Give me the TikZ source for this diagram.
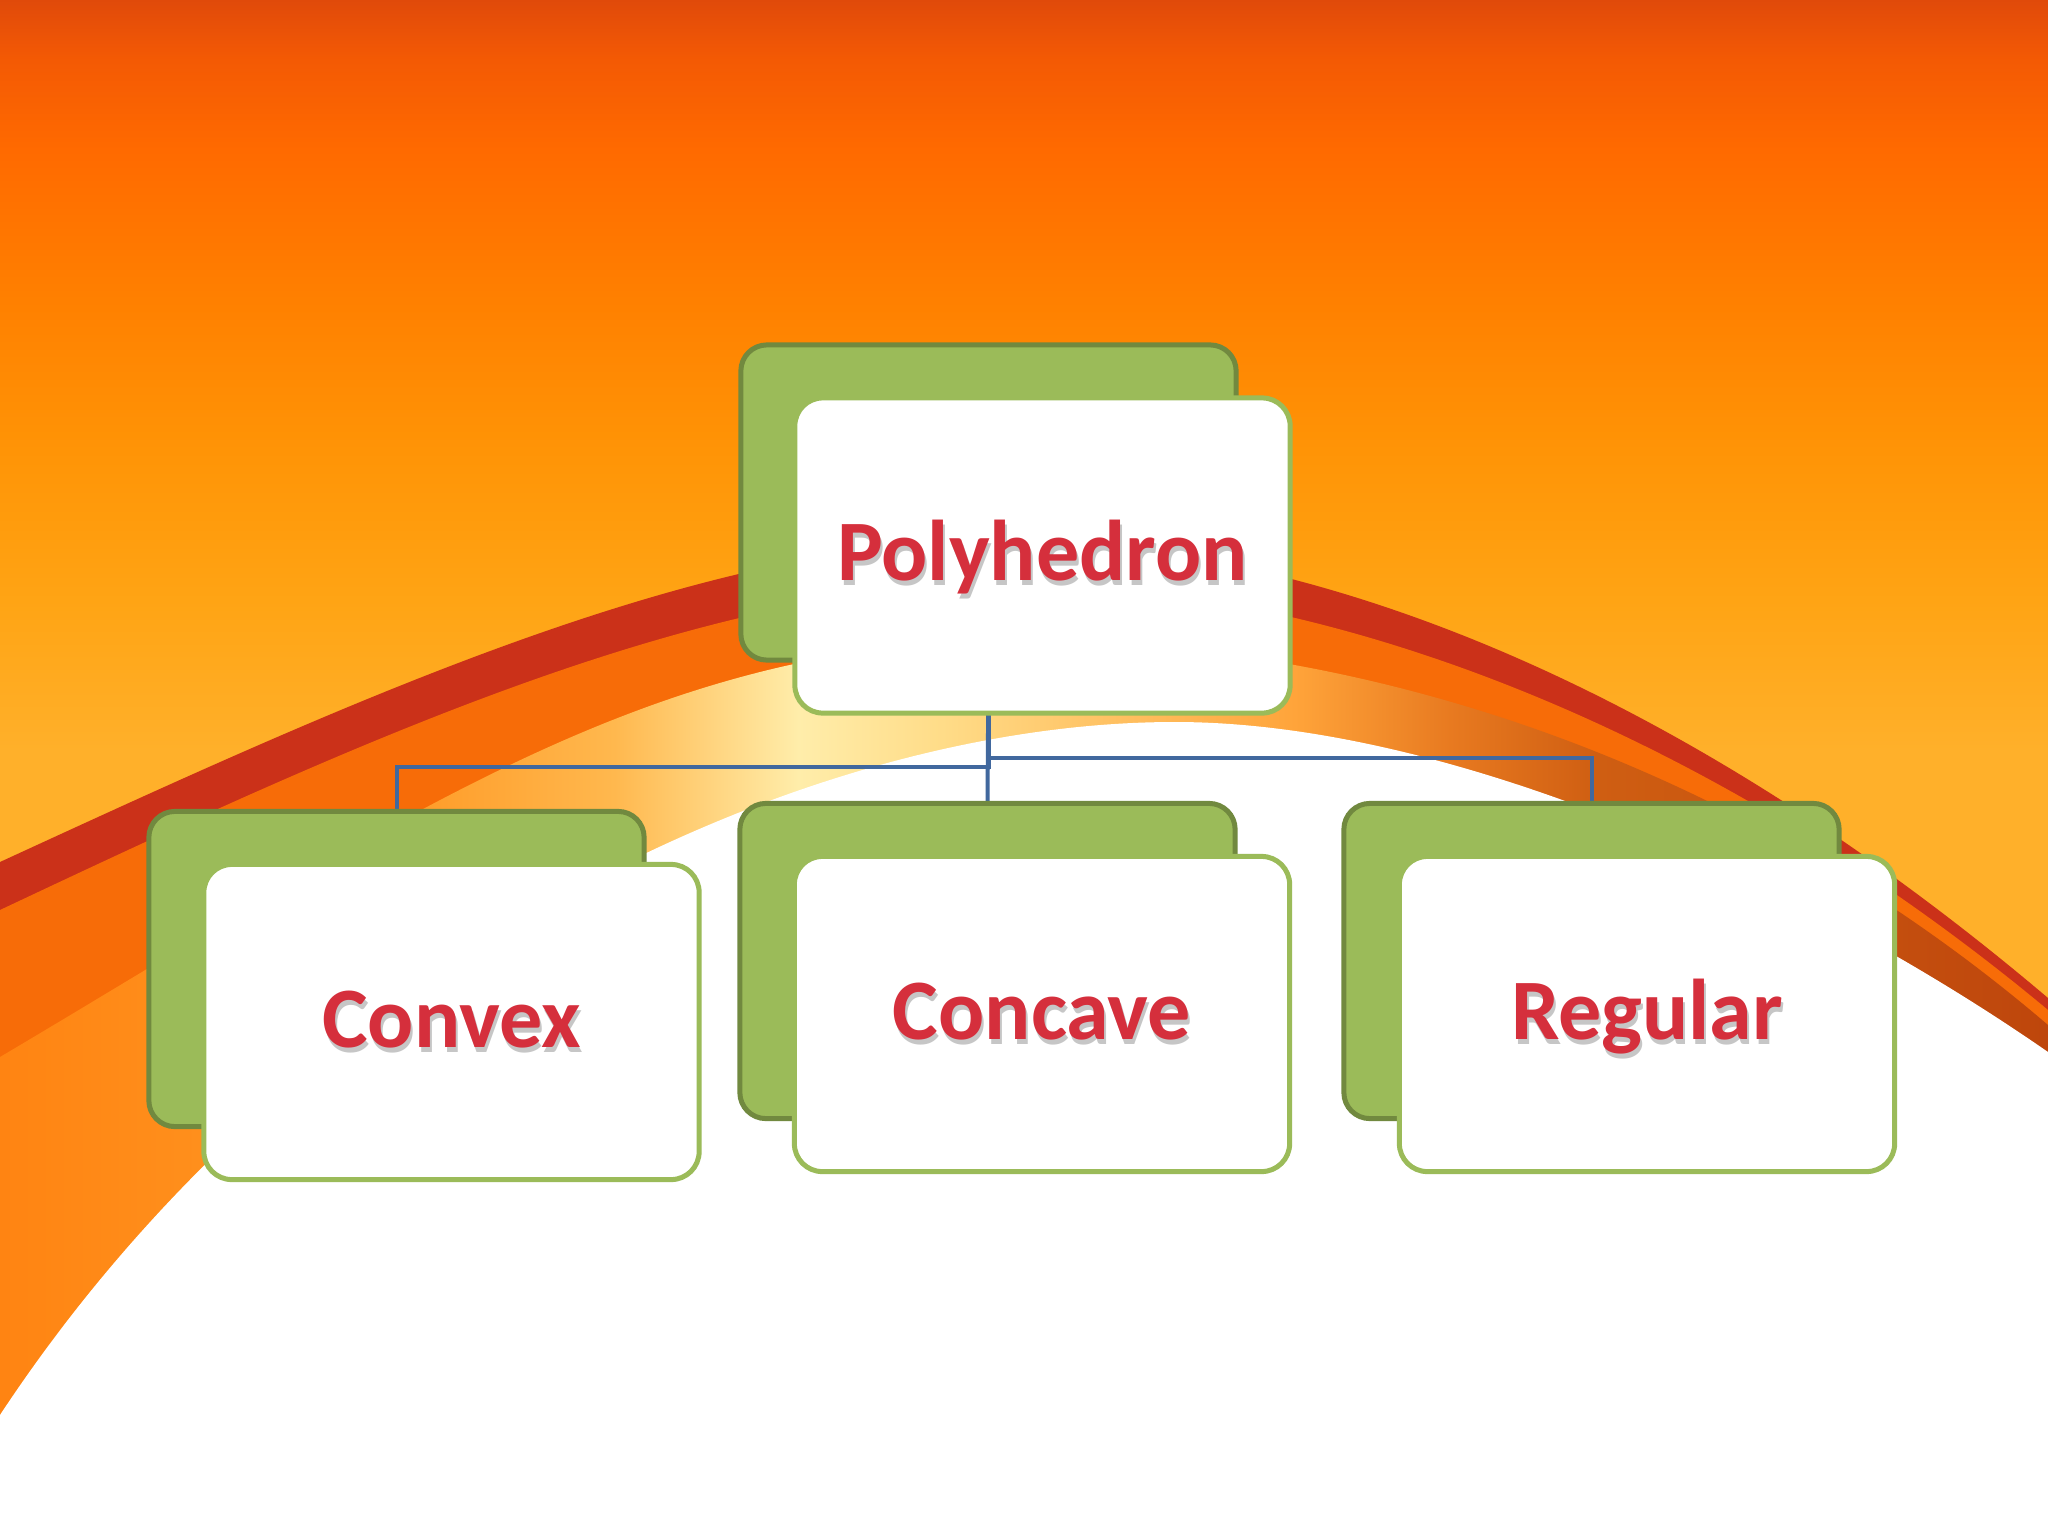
\documentclass[tikz,border=0pt]{standalone}
\usepackage{fontspec}
\newfontfamily\calib{Carlito}
\usetikzlibrary{calc}
\pgfdeclarelayer{bg}
\pgfdeclarelayer{conns}
\pgfsetlayers{bg,conns,main}
\definecolor{skyA}{HTML}{E04A0A}
\definecolor{skyB}{HTML}{F45A04}
\definecolor{skyC}{HTML}{FF6A00}
\definecolor{skyD}{HTML}{FF8000}
\definecolor{skyE}{HTML}{FF9406}
\definecolor{skyF}{HTML}{FFA414}
\definecolor{skyG}{HTML}{FFB02A}
\definecolor{redband}{HTML}{CB3119}
\definecolor{orgband}{HTML}{F76C08}
\definecolor{bandA}{HTML}{FF8412}
\definecolor{bandB}{HTML}{FF9A26}
\definecolor{bandB2}{HTML}{FFB84E}
\definecolor{bandC}{HTML}{FFEDAA}
\definecolor{bandD}{HTML}{FFDC88}
\definecolor{bandE}{HTML}{FFA43A}
\definecolor{bandE2}{HTML}{E87A20}
\definecolor{bandF}{HTML}{CF5E12}
\definecolor{bandG}{HTML}{BE460C}
\definecolor{greenfill}{HTML}{9BBB59}
\definecolor{greendark}{HTML}{71893F}
\definecolor{connblue}{HTML}{41689E}
\definecolor{labelred}{HTML}{D52F3C}
\definecolor{txtshadow}{HTML}{C6C6C6}
\pgfdeclareverticalshading{skyshade}{100bp}{color(0bp)=(skyG); color(40.6bp)=(skyG); color(47.3bp)=(skyF); color(54bp)=(skyE); color(60.7bp)=(skyD); color(67.4bp)=(skyC); color(71.4bp)=(skyB); color(74.1bp)=(skyA); color(100bp)=(skyA)}
\pgfdeclarehorizontalshading{bandshade}{100bp}{color(0bp)=(bandA); color(25bp)=(bandA); color(34.8bp)=(bandB); color(40bp)=(bandB2); color(44.5bp)=(bandC); color(48bp)=(bandD); color(56.6bp)=(bandE); color(60.4bp)=(bandE2); color(64bp)=(bandF); color(75bp)=(bandG); color(100bp)=(bandG)}
\newcommand{\shadowed}[1]{\rlap{\kern0.02cm\raisebox{-0.05cm}{\textcolor{txtshadow}{#1}}}#1}
\begin{document}
\begin{tikzpicture}[x=0.01cm, y=-0.01cm,
  backbox/.style={draw=greendark, fill=greenfill, line width=0.05cm, rounded corners=0.26cm,
    minimum width=4.95cm, minimum height=3.15cm, inner sep=0pt, outer sep=0pt},
  frontbox/.style={draw=greenfill, fill=white, line width=0.05cm, rounded corners=0.28cm,
    minimum width=4.95cm, minimum height=3.15cm, inner sep=0pt, outer sep=0pt},
  lbl/.style={font=\calib\bfseries\fontsize{24.5pt}{29pt}\selectfont, text=labelred,
    inner sep=0pt, anchor=base},
  conn/.style={draw=connblue, line width=0.04cm}]
\useasboundingbox (0,0) rectangle (2048,1536);
\clip (0,0) rectangle (2048,1536);
\begin{pgfonlayer}{bg}
\fill[white] (0,0) rectangle (2048,1536);
\shade[shading=skyshade] (0,-20) rectangle (2048,1100);
% red band
\fill[redband] (0,862) .. controls (350,701) and (700,540) .. (1000,540)
  .. controls (1350,540) and (1720,720) .. (2048,998) -- (2048,1600) -- (0,1600) -- cycle;
% orange band
\fill[orgband] (0,910) .. controls (350,745) and (700,583) .. (1010,583)
  .. controls (1350,583) and (1730,745) .. (2048,1010) -- (2048,1600) -- (0,1600) -- cycle;
% light / glow / shadow band
\shade[shading=bandshade] (0,1057) .. controls (400,820) and (650,640) .. (1020,640)
  .. controls (1380,640) and (1750,770) .. (2048,1025) -- (2048,1600) -- (0,1600) -- cycle;
% white interior
\fill[white] (0,1415) .. controls (300,960) and (800,722) .. (1175,722)
  .. controls (1450,722) and (1800,880) .. (2048,1052) -- (2048,1600) -- (0,1600) -- cycle;
\end{pgfonlayer}
% back boxes
\node[backbox] (topback) at (988.5,502.5) {};
\node[backbox] (convexback) at (396.5,969) {};
\node[backbox] (concaveback) at (987.5,961) {};
\node[backbox] (regularback) at (1591.5,961) {};
% connectors beneath boxes
\begin{pgfonlayer}{conns}
\draw[conn] (topback.south) -- (concaveback.north);
\draw[conn] (topback.south) -- ++(0,107) -| (convexback.north);
\draw[conn] (topback.south) -- ++(0,98) -| (regularback.north);
\end{pgfonlayer}
% front boxes
\node[frontbox] (topfront) at (1042.5,555.5) {};
\node[frontbox] (convexfront) at (451.5,1022) {};
\node[frontbox] (concavefront) at (1042,1014) {};
\node[frontbox] (regularfront) at (1647,1014) {};
% labels
\node[lbl] (toplabel) at ($(topfront.center)+(0,25)$) {\shadowed{Polyhedron}};
\node[lbl] (convexlabel) at ($(convexfront.center)+(0,25)$) {\shadowed{Convex}};
\node[lbl] (concavelabel) at ($(concavefront.center)+(0,25)$) {\shadowed{Concave}};
\node[lbl] (regularlabel) at ($(regularfront.center)+(0,25)$) {\shadowed{Regular}};
\end{tikzpicture}
\end{document}
